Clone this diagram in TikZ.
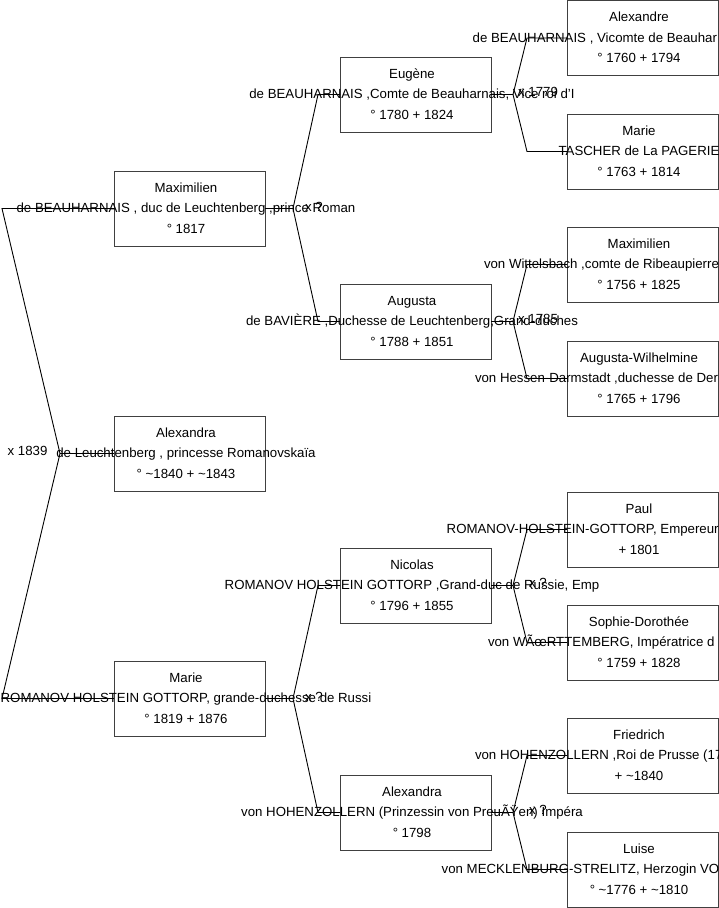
\documentclass[tikz,border=0pt]{standalone}
\usepackage{fontspec}
\setmainfont{Liberation Sans}
\usetikzlibrary{calc}
\newcommand\pers[6]{% id, left x, top, line1, line3, text centre x
  \node[pbox] (#1) at (#2,#3) {};
  \node[ptext] (#1-1) at (#6,#3+21) {#4};
  \node[ptext] (#1-3) at (#6,#3+62) {#5};
}
\begin{document}
\begin{tikzpicture}[x=1pt,y=-1pt,
  pbox/.style={draw=black!75, line width=1pt, minimum width=151pt, minimum height=75pt,
    inner sep=0pt, outer sep=0pt, anchor=north west},
  ptext/.style={inner sep=0pt, outer sep=0pt, anchor=base, font=\fontsize{13.25}{15}\selectfont},
  ptextw/.style={ptext, anchor=base west},
  conn/.style={draw=black, line width=0.9pt}]
\useasboundingbox (0,0) rectangle (719,908);
\clip (0,0) rectangle (719,908);

% ---------- level 1 ----------
\pers{max}{114}{171}{Maximilien}{° 1817}{186}
\node[ptext] (max-2) at (186,171+41.5) {de BEAUHARNAIS , duc de Leuchtenberg ,prince Roman};
\pers{alx1}{114}{416}{Alexandra}{° \textasciitilde1840 + \textasciitilde1843}{186}
\node[ptext] (alx1-2) at (186,416+41.5) {de Leuchtenberg , princesse Romanovskaïa};
\pers{mar}{114}{661}{Marie}{° 1819 + 1876}{186}
\node[ptext] (mar-2) at (186,661+41.5) {ROMANOV HOLSTEIN GOTTORP, grande-duchesse de Russi};

% ---------- level 2 ----------
\pers{eug}{340}{57}{Eugène}{° 1780 + 1824}{412}
\node[ptext] (eug-2) at (412,57+41.5) {de BEAUHARNAIS ,Comte de Beauharnais, Vice roi d'I};
\pers{aug}{340}{284}{Augusta}{° 1788 + 1851}{412}
\node[ptext] (aug-2) at (412,284+41.5) {de BAVIÈRE ,Duchesse de Leuchtenberg,Grand-duches};
\pers{nic}{340}{548}{Nicolas}{° 1796 + 1855}{412}
\node[ptext] (nic-2) at (412,548+41.5) {ROMANOV HOLSTEIN GOTTORP ,Grand-duc de Russie, Emp};
\pers{alx2}{340}{775}{Alexandra}{° 1798}{412}
\node[ptext] (alx2-2) at (412,775+41.5) {von HOHENZOLLERN (Prinzessin von PreuÃŸen) Impéra};

% ---------- level 3 ----------
\pers{ale}{567}{0.5}{Alexandre}{° 1760 + 1794}{639}
\node[ptextw] (ale-2) at (472.7,0.5+41.5) {de BEAUHARNAIS , Vicomte de Beauhar};
\pers{mta}{567}{114}{Marie}{° 1763 + 1814}{639}
\node[ptext] (mta-2) at (639,114+41.5) {TASCHER de La PAGERIE};
\pers{mvw}{567}{227}{Maximilien}{° 1756 + 1825}{639}
\node[ptextw] (mvw-2) at (484,227+41.5) {von Wittelsbach ,comte de Ribeaupierre};
\pers{awh}{567}{341}{Augusta-Wilhelmine}{° 1765 + 1796}{639}
\node[ptextw] (awh-2) at (475,341+41.5) {von Hessen-Darmstadt ,duchesse de Der};
\pers{pau}{567}{492}{Paul}{+ 1801}{639}
\node[ptextw] (pau-2) at (446.7,492+41.5) {ROMANOV-HOLSTEIN-GOTTORP, Empereur};
\pers{sop}{567}{605}{Sophie-Dorothée}{° 1759 + 1828}{639}
\node[ptextw] (sop-2) at (488,605+41.5) {von WÃœRTTEMBERG, Impératrice d};
\pers{fri}{567}{718}{Friedrich}{+ \textasciitilde1840}{639}
\node[ptextw] (fri-2) at (475,718+41.5) {von HOHENZOLLERN ,Roi de Prusse (17};
\pers{lui}{567}{832}{Luise}{° \textasciitilde1776 + \textasciitilde1810}{639}
\node[ptextw] (lui-2) at (441.7,832+41.5) {von MECKLENBURG-STRELITZ, Herzogin VO};

% ---------- connectors: level 0 ----------
\coordinate (f0) at (60,453.5);
\coordinate (e0a) at ($(max.west)+(-112,0)$);
\coordinate (e0b) at ($(mar.west)+(-112,0)$);
\draw[conn] (max.west) -- (e0a) -- (f0) -- (e0b) -- (mar.west);
\draw[conn] (f0) -- (alx1.west);
\node[ptext] (m0) at (27.5,451+4.6) {x 1839};

% ---------- connectors: level 1 ----------
\foreach \p/\a/\b in {max/eug/aug, mar/nic/alx2}{
  \coordinate (\p-f) at ($(\p.east)+(28,0)$);
  \draw[conn] (\p.east) -- (\p-f) -- ($(\a.west)+(-22,0)$) -- (\a.west);
  \draw[conn] (\p-f) -- ($(\b.west)+(-22,0)$) -- (\b.west);
}
\node[ptext] (m1) at (314,208.5+4.6-2) {x ?};
\node[ptext] (m2) at (314,698.5+4.6-2) {x ?};

% ---------- connectors: level 2 ----------
\foreach \p/\a/\b in {eug/ale/mta, aug/mvw/awh, nic/pau/sop, alx2/fri/lui}{
  \coordinate (\p-f) at ($(\p.east)+(22,0)$);
  \draw[conn] (\p.east) -- (\p-f) -- ($(\a.west)+(-40,0)$) -- (\a.west);
  \draw[conn] (\p-f) -- ($(\b.west)+(-40,0)$) -- (\b.west);
}
\node[ptext] (m3) at (538,94.5+4.6-3) {x 1779};
\node[ptext] (m4) at (538,321.5+4.6-3) {x 1785};
\node[ptext] (m5) at (538,585.5+4.6-3) {x ?};
\node[ptext] (m6) at (538,812.5+4.6-3) {x ?};
\end{tikzpicture}
\end{document}
